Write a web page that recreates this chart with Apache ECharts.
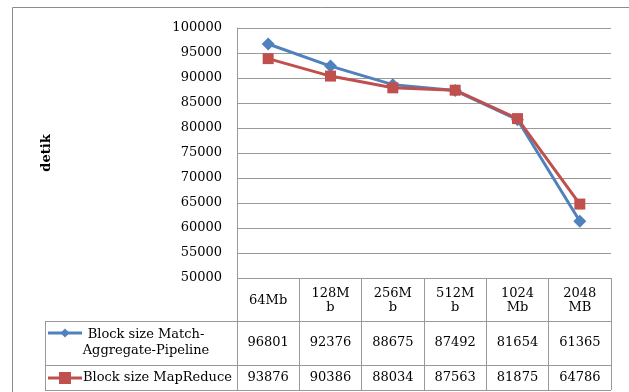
<!DOCTYPE html>
<html>
<head>
<meta charset="utf-8">
<script src="https://cdn.jsdelivr.net/npm/echarts@6/dist/echarts.min.js"></script>
<style>
  html, body { margin: 0; padding: 0; background: #fff; }
  #chart { width: 629px; height: 392px; }
</style>
</head>
<body>
<div id="chart"></div>
<script>
// Block sizes (column headers of the data table, wrapped as in the cells)
const blockSizes = ['64Mb', '128M\nb', '256M\nb', '512M\nb', '1024\nMb', '2048\nMB'];

// Processing time (detik) per block size
const pipelineName = 'Block size Match-Aggregate-Pipeline';
const pipelineLegend = 'Block size Match-\nAggregate-Pipeline';
const pipelineValues = [96801, 92376, 88675, 87492, 81654, 61365];

const mapReduceName = 'Block size MapReduce';
const mapReduceLegend = 'Block size MapReduce';
const mapReduceValues = [93876, 90386, 88034, 87563, 81875, 64786];

// Value axis range
const yMin = 50000;
const yMax = 100000;
const yStep = 5000;

const FONT = 'DejaVu Serif';
const GRID_COLOR = '#999999';
const BLUE = '#4f81bd';
const RED = '#c0504d';

const chart = echarts.init(document.getElementById('chart'), null, { renderer: 'canvas' });

const baseLabel = { fontFamily: FONT, fontSize: 13, color: '#000' };

// table layout (below the plot area)
const tableLeft = 45;
const plotLeft = 237;
const plotRight = 611;
const headerBottom = 321;
const row1Bottom = 365;
const row2Bottom = 390;

const option = {
  animation: false,
  backgroundColor: '#fff',
  grid: { left: plotLeft, right: 629 - plotRight, top: 28, bottom: 392 - 278, containLabel: false },
  xAxis: [
    {
      type: 'category',
      data: blockSizes,
      position: 'bottom',
      boundaryGap: true,
      axisLine: { show: false },
      axisTick: { show: true, interval: 0, length: row2Bottom - 278, lineStyle: { color: GRID_COLOR, width: 1 } },
      axisLabel: Object.assign({}, baseLabel, { interval: 0, lineHeight: 14, verticalAlign: 'middle', margin: 23 }),
      splitLine: { show: false }
    },
    {
      type: 'category',
      data: blockSizes,
      position: 'bottom',
      axisLine: { show: false },
      axisTick: { show: false },
      axisLabel: Object.assign({}, baseLabel, {
        interval: 0, verticalAlign: 'middle', margin: 65,
        formatter: (v, i) => String(pipelineValues[i])
      })
    },
    {
      type: 'category',
      data: blockSizes,
      position: 'bottom',
      axisLine: { show: false },
      axisTick: { show: false },
      axisLabel: Object.assign({}, baseLabel, {
        interval: 0, verticalAlign: 'middle', margin: 100,
        formatter: (v, i) => String(mapReduceValues[i])
      })
    }
  ],
  yAxis: {
    type: 'value',
    min: yMin,
    max: yMax,
    interval: yStep,
    name: 'detik',
    nameLocation: 'middle',
    nameRotate: 90,
    nameGap: plotLeft - 45 - 8,
    nameTextStyle: { fontFamily: FONT, fontSize: 13, fontWeight: 'bold', color: '#000' },
    axisLine: { show: true, lineStyle: { color: GRID_COLOR, width: 1 } },
    axisTick: { show: false },
    axisLabel: Object.assign({}, baseLabel, { margin: 15, padding: [4, 0, 0, 0], formatter: (v) => String(v) }),
    splitLine: { show: true, lineStyle: { color: GRID_COLOR, width: 1 } }
  },
  series: [
    {
      name: pipelineName,
      type: 'line',
      data: pipelineValues,
      symbol: 'diamond',
      symbolSize: 13,
      lineStyle: { color: BLUE, width: 3 },
      itemStyle: { color: BLUE },
      z: 2
    },
    {
      name: mapReduceName,
      type: 'line',
      data: mapReduceValues,
      symbol: 'rect',
      symbolSize: 11,
      lineStyle: { color: RED, width: 3 },
      itemStyle: { color: RED },
      z: 3
    }
  ],
  graphic: [
    // outer chart frame
    {
      type: 'rect', silent: true, z: 0,
      shape: { x: 12.5, y: 7.5, width: 700, height: 500 },
      style: { fill: null, stroke: '#8c8c8c', lineWidth: 1 }
    },
    // data table horizontal rules
    {
      type: 'line', silent: true,
      shape: { x1: tableLeft, y1: headerBottom + 0.5, x2: plotRight, y2: headerBottom + 0.5 },
      style: { stroke: GRID_COLOR, lineWidth: 1 }
    },
    {
      type: 'line', silent: true,
      shape: { x1: tableLeft, y1: row1Bottom + 0.5, x2: plotRight, y2: row1Bottom + 0.5 },
      style: { stroke: GRID_COLOR, lineWidth: 1 }
    },
    {
      type: 'line', silent: true,
      shape: { x1: tableLeft, y1: row2Bottom + 0.5, x2: plotRight, y2: row2Bottom + 0.5 },
      style: { stroke: GRID_COLOR, lineWidth: 1 }
    },
    {
      type: 'line', silent: true,
      shape: { x1: tableLeft + 0.5, y1: headerBottom, x2: tableLeft + 0.5, y2: row2Bottom + 1 },
      style: { stroke: GRID_COLOR, lineWidth: 1 }
    },
    // legend keys inside the table
    {
      type: 'line', silent: true,
      shape: { x1: 48, y1: 333, x2: 82, y2: 333 },
      style: { stroke: BLUE, lineWidth: 3 }
    },
    {
      type: 'polygon', silent: true,
      shape: { points: [[65, 328.5], [69.5, 333], [65, 337.5], [60.5, 333]] },
      style: { fill: BLUE }
    },
    {
      type: 'text', silent: true,
      style: {
        x: 146, y: 343, text: pipelineLegend, align: 'center', verticalAlign: 'middle',
        font: '13px "DejaVu Serif"', lineHeight: 16, fill: '#000'
      }
    },
    {
      type: 'line', silent: true,
      shape: { x1: 48, y1: 378, x2: 82, y2: 378 },
      style: { stroke: RED, lineWidth: 3 }
    },
    {
      type: 'rect', silent: true,
      shape: { x: 59, y: 372, width: 12, height: 12 },
      style: { fill: RED }
    },
    {
      type: 'text', silent: true,
      style: {
        x: 83, y: 378, text: mapReduceLegend, align: 'left', verticalAlign: 'middle',
        font: '13px "DejaVu Serif"', fill: '#000'
      }
    }
  ]
};

chart.setOption(option);
</script>
</body>
</html>
